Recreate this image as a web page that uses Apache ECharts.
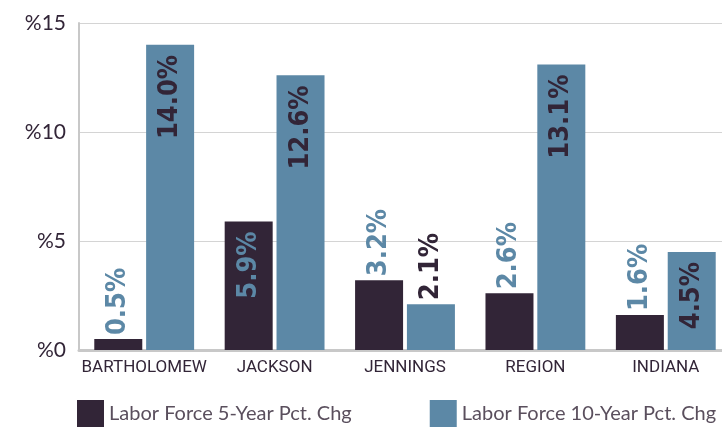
<!DOCTYPE html>
<html>
<head>
<meta charset="utf-8">
<script src="https://cdn.jsdelivr.net/npm/echarts@6/dist/echarts.min.js"></script>
<style>
  html, body { margin: 0; padding: 0; background: #fff; overflow: hidden; }
  #chart { width: 740px; height: 427px; }
</style>
</head>
<body>
<div id="chart"></div>
<script>
const categories = ["BARTHOLOMEW", "JACKSON", "JENNINGS", "REGION", "INDIANA"];
const fiveYear = [0.5, 5.9, 3.2, 2.6, 1.6];
const tenYear = [14.0, 12.6, 2.1, 13.1, 4.5];
const seriesNames = ["Labor Force 5-Year Pct. Chg", "Labor Force 10-Year Pct. Chg"];

const DARK = "#322537";
const BLUE = "#5c88a6";

// tall bars get the label inside, short ones above
function labelFor(v, color) {
  const inside = v > 4;
  return {
    show: true,
    rotate: 90,
    position: inside ? "insideTop" : "top",
    align: inside ? "right" : "left",
    verticalAlign: "middle",
    distance: inside ? 10 : 4,
    color: color,
    fontFamily: "DejaVu Sans Condensed",
    fontWeight: "bold",
    fontSize: 27,
    formatter: (p) => p.value.toFixed(1) + "%"
  };
}

function makeData(values, labelColor) {
  return values.map((v) => ({ value: v, label: labelFor(v, labelColor) }));
}

const chart = echarts.init(document.getElementById("chart"));
chart.setOption({
  animation: false,
  grid: { left: 79, top: 23, bottom: 77, right: 9, containLabel: false },
  legend: {
    left: 77,
    top: 400,
    padding: 0,
    itemWidth: 27,
    itemHeight: 27,
    itemGap: 78,
    icon: "rect",
    textStyle: { color: "#5a4f5d", fontSize: 20, fontFamily: "Lato" },
    data: seriesNames
  },
  xAxis: {
    type: "category",
    data: categories,
    axisLine: { lineStyle: { color: "#c8c8c8", width: 3 } },
    axisTick: { show: false },
    axisLabel: { color: DARK, fontSize: 17, fontFamily: "Roboto", margin: 9, interval: 0 }
  },
  yAxis: {
    type: "value",
    min: 0,
    max: 15,
    interval: 5,
    axisLine: { show: true, lineStyle: { color: "#c8c8c8", width: 2 } },
    splitLine: { lineStyle: { color: "#d4d4d4", width: 1 } },
    axisLabel: {
      color: DARK,
      fontSize: 21,
      fontFamily: "Lato",
      margin: 13,
      formatter: (v) => "%" + v
    }
  },
  series: [
    {
      name: seriesNames[0],
      type: "bar",
      barWidth: 48,
      barGap: "8%",
      itemStyle: { color: DARK },
      data: makeData(fiveYear, BLUE)
    },
    {
      name: seriesNames[1],
      type: "bar",
      barWidth: 48,
      itemStyle: { color: BLUE },
      data: makeData(tenYear, DARK)
    }
  ]
});
</script>
</body>
</html>
